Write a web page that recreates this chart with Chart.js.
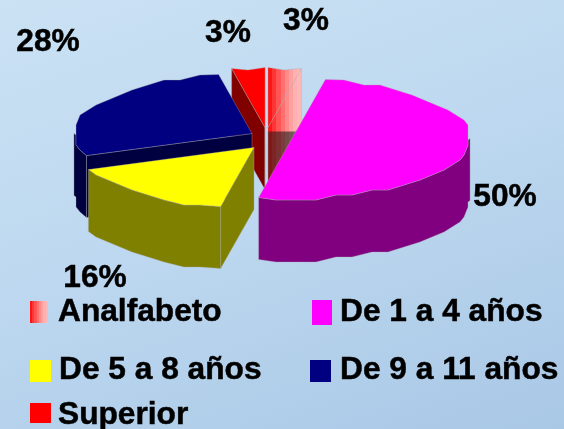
<!DOCTYPE html>
<html>
<head>
<meta charset="utf-8">
<script src="https://cdn.jsdelivr.net/npm/chart.js@4"></script>
<style>
  html, body { margin: 0; padding: 0; }
  body { width: 564px; height: 429px; overflow: hidden;
         background: linear-gradient(160deg, #cbe2f4 0%, #bcd7ef 50%, #a9c8e6 100%); }
  #wrap { position: absolute; left: 0; top: 0; width: 564px; height: 429px; }
</style>
</head>
<body>
<div id="wrap"><canvas id="chart" width="564" height="429"></canvas></div>
<script>
const categories = ['Analfabeto', 'De 1 a 4 años', 'De 5 a 8 años', 'De 9 a 11 años', 'Superior'];
const percentages = [3, 50, 16, 28, 3];

const topColors = ['#ff0000', '#ff00ff', '#ffff00', '#000080', '#ff0000'];
const wallColors = ['#800000', '#800080', '#808000', '#000040', '#800000'];
// the stepped fill of the first slice
const stepColors = ['#ff1515', '#ff3535', '#ff5555', '#ff7070', '#ff8a8a', '#ffa0a0', '#ffb0b0', '#ffb8b8'];

// how far each slice is pulled from the pie centre
const explode = [[-2, -8], [22, 3], [-16, 12], [-18, -2], [-5, -8]];
const drawOrder = [4, 0, 3, 2, 1];
const squashX = 1.314, squashY = 0.443, depth = 62;

const labelSpots = [[306, 21], [505, 197], [95, 278], [48, 42], [228, 33]];
const legendSpots = [[30, 301, 18, 22, 58, 312], [312, 300, 20, 25, 340, 312], [30, 360, 21, 22, 59, 370],
                     [310, 360, 21, 22, 340, 370], [30, 403, 21, 20, 58, 415]];
const boldFont = 'bold 31.7px "Liberation Sans", Arial, sans-serif';

function stepped(ctx, x0, x1, dark) {
  const g = ctx.createLinearGradient(x0, 0, x1, 0);
  stepColors.forEach((c, i) => {
    let col = c;
    if (dark) {
      // wall version, goes from dark red to grey
      const t = i / (stepColors.length - 1);
      col = `rgb(${128 - t * 18},${24 + t * 86},${24 + t * 86})`;
    }
    g.addColorStop(i / stepColors.length, col);
    g.addColorStop((i + 1) / stepColors.length, col);
  });
  return g;
}

// rough polygon round the rim, the original pie has these coarse edges
function rimPoints(arc, cx, cy, rx, ry) {
  const pts = [];
  const steps = Math.max(1, Math.round((arc.endAngle - arc.startAngle) / 0.11));
  for (let i = 0; i <= steps; i++) {
    const a = arc.startAngle + (arc.endAngle - arc.startAngle) * i / steps;
    let x = cx + rx * Math.cos(a), y = cy + ry * Math.sin(a);
    if (i > 0 && i < steps) {
      x = Math.round(x / 4) * 4;
      y = Math.round(y / 5) * 5;
    }
    pts.push({ x, y, a });
  }
  return pts;
}

function polygon(ctx, pts, fill) {
  ctx.beginPath();
  pts.forEach((p, i) => i ? ctx.lineTo(p.x, p.y) : ctx.moveTo(p.x, p.y));
  ctx.closePath();
  ctx.fillStyle = fill;
  ctx.fill();
  ctx.lineWidth = 1;
  ctx.strokeStyle = 'rgba(170,170,170,0.35)';
  ctx.stroke();
}

function heavyText(ctx, text, x, y) {
  ctx.fillText(text, x, y);
  ctx.strokeText(text, x, y);
}

const pie3d = {
  id: 'pie3d',
  beforeDatasetDraw(chart) {
    const ctx = chart.ctx;
    const arcs = chart.getDatasetMeta(0).data;
    ctx.save();
    ctx.lineJoin = 'round';
    drawOrder.forEach(i => {
      const arc = arcs[i];
      const rx = arc.outerRadius * squashX, ry = arc.outerRadius * squashY;
      const cx = arc.x + explode[i][0], cy = arc.y + explode[i][1];
      const rim = rimPoints(arc, cx, cy, rx, ry);
      const down = p => ({ x: p.x, y: p.y + depth });
      const first = rim[0], last = rim[rim.length - 1];
      const apex = { x: cx, y: cy };
      const gradient = i === 0;
      const minX = first.x, maxX = last.x;
      const wallFill = gradient ? stepped(ctx, minX, maxX, true) : wallColors[i];
      const topFill = gradient ? stepped(ctx, minX, maxX, false) : topColors[i];

      // side walls on the two cut edges, only those facing the viewer
      [[first, -1], [last, 1]].forEach(([p, dir]) => {
        if (dir * (p.x - apex.x) <= 0) return;
        const wall = [apex, p, down(p), down(apex)];
        if (gradient) {
          polygon(ctx, wall, topFill);
          ctx.save();
          ctx.beginPath();
          ctx.rect(0, apex.y + 4, chart.width, chart.height);
          ctx.clip();
          polygon(ctx, wall, wallFill);
          ctx.restore();
        } else {
          polygon(ctx, wall, wallFill);
        }
      });

      // outer wall, the front half of the rim
      const front = rim.filter(p => p.a >= 0 && p.a <= Math.PI);
      if (front.length > 1) {
        const a0 = Math.max(arc.startAngle, 0), a1 = Math.min(arc.endAngle, Math.PI);
        const edge = [{ x: cx + rx * Math.cos(a0), y: cy + ry * Math.sin(a0) }, ...front,
                      { x: cx + rx * Math.cos(a1), y: cy + ry * Math.sin(a1) }];
        polygon(ctx, [...edge, ...edge.slice().reverse().map(down)], wallFill);
      }

      polygon(ctx, [apex, ...rim], topFill);
    });
    ctx.restore();
    return false;
  },
  afterDraw(chart) {
    const ctx = chart.ctx;
    ctx.save();
    ctx.font = boldFont;
    ctx.fillStyle = '#000';
    ctx.strokeStyle = '#000';
    ctx.lineWidth = 0.5;
    ctx.textBaseline = 'middle';
    ctx.textAlign = 'center';
    percentages.forEach((v, i) => heavyText(ctx, v + '%', labelSpots[i][0], labelSpots[i][1]));
    ctx.textAlign = 'left';
    categories.forEach((name, i) => {
      const [sx, sy, sw, sh, tx, ty] = legendSpots[i];
      ctx.fillStyle = i === 0 ? stepped(ctx, sx, sx + sw, false) : topColors[i];
      ctx.fillRect(sx, sy, sw, sh);
      ctx.fillStyle = '#000';
      heavyText(ctx, name, tx, ty);
    });
    ctx.restore();
  }
};

new Chart(document.getElementById('chart'), {
  type: 'pie',
  data: {
    labels: categories,
    datasets: [{ data: percentages, backgroundColor: topColors, borderWidth: 0 }]
  },
  options: {
    responsive: false,
    animation: false,
    layout: { padding: { left: 0, right: 24, top: 0, bottom: 158 } },
    plugins: { legend: { display: false }, tooltip: { enabled: false } }
  },
  plugins: [pie3d]
});
</script>
</body>
</html>
